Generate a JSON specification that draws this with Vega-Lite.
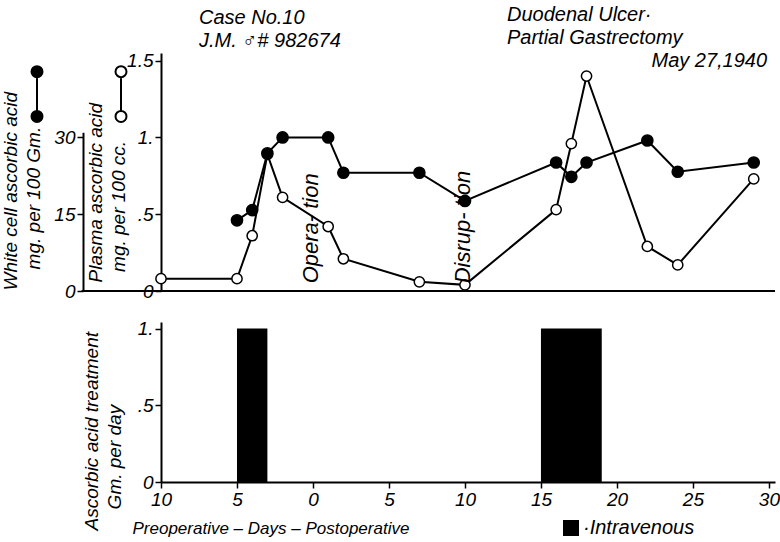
{
  "$schema": "https://vega.github.io/schema/vega-lite/v6.json",
  "padding": {"left": 0, "top": 4, "right": 0, "bottom": 0},
  "bounds": "flush",
  "spacing": 31,
  "background": "white",
  "config": {
    "font": "Liberation Sans",
    "view": {"stroke": null},
    "axis": {
      "domainColor": "black", "domainWidth": 2, "tickColor": "black", "tickWidth": 1.5, "tickSize": 6,
      "labelColor": "black", "labelFont": "Liberation Sans", "labelFontSize": 19, "labelFontStyle": "italic",
      "titleFont": "Liberation Sans", "titleFontSize": 19, "titleFontStyle": "italic", "titleFontWeight": "normal",
      "titleColor": "black", "titleLineHeight": 23, "grid": false, "labelPadding": 2, "labelFlush": false
    },
    "title": {"font": "Liberation Sans", "fontSize": 20, "fontStyle": "italic", "fontWeight": "normal", "color": "black", "lineHeight": 23},
    "legend": {"labelFont": "Liberation Sans", "labelColor": "black"}
  },
  "title": {"text": ["Case No.10", "J.M. ♂# 982674"], "anchor": "start", "dx": 198, "dy": 46, "offset": 0},
  "resolve": {"scale": {"fill": "independent"}, "legend": {"fill": "independent"}},
  "datasets": {
    "levels": [
      {"day": -10, "series": "Plasma", "value": 0.08},
      {"day": -5, "series": "Plasma", "value": 0.08},
      {"day": -4, "series": "Plasma", "value": 0.36},
      {"day": -3, "series": "Plasma", "value": 0.89},
      {"day": -2, "series": "Plasma", "value": 0.61},
      {"day": 1, "series": "Plasma", "value": 0.42},
      {"day": 2, "series": "Plasma", "value": 0.21},
      {"day": 7, "series": "Plasma", "value": 0.06},
      {"day": 10, "series": "Plasma", "value": 0.04},
      {"day": 16, "series": "Plasma", "value": 0.53},
      {"day": 17, "series": "Plasma", "value": 0.96},
      {"day": 18, "series": "Plasma", "value": 1.40},
      {"day": 22, "series": "Plasma", "value": 0.29},
      {"day": 24, "series": "Plasma", "value": 0.17},
      {"day": 29, "series": "Plasma", "value": 0.73},
      {"day": -5, "series": "White cell", "value": 13.8},
      {"day": -4, "series": "White cell", "value": 15.8},
      {"day": -3, "series": "White cell", "value": 26.9},
      {"day": -2, "series": "White cell", "value": 30},
      {"day": 1, "series": "White cell", "value": 30},
      {"day": 2, "series": "White cell", "value": 23.1},
      {"day": 7, "series": "White cell", "value": 23.1},
      {"day": 10, "series": "White cell", "value": 17.6},
      {"day": 16, "series": "White cell", "value": 25.1},
      {"day": 17, "series": "White cell", "value": 22.3},
      {"day": 18, "series": "White cell", "value": 25.1},
      {"day": 22, "series": "White cell", "value": 29.4},
      {"day": 24, "series": "White cell", "value": 23.3},
      {"day": 29, "series": "White cell", "value": 25.1}
    ],
    "events": [
      {"day": 0, "event": "Opera- tion"},
      {"day": 10, "event": "Disrup- tion"}
    ],
    "treatment": [
      {"start": -5, "end": -3, "dose": 1, "route": "Intravenous"},
      {"start": 15, "end": 19, "dose": 1, "route": "Intravenous"}
    ]
  },
  "vconcat": [
    {
      "width": 614,
      "height": 238,
      "title": {
        "text": ["Duodenal Ulcer·", "Partial Gastrectomy", "\u200b\u00a0\u00a0\u00a0\u00a0\u00a0\u00a0\u00a0\u00a0\u00a0\u00a0\u00a0\u00a0\u00a0\u00a0\u00a0\u00a0\u00a0\u00a0\u00a0\u00a0\u00a0\u00a0\u00a0\u00a0\u00a0\u00a0May 27,1940"],
        "anchor": "start", "frame": "group", "dx": 346, "dy": 19, "offset": 0
      },
      "layer": [
        {
          "data": {"name": "levels"},
          "transform": [{"filter": "datum.series == 'Plasma'"}],
          "layer": [
            {
              "mark": {"type": "rule", "color": "black", "strokeWidth": 2},
              "encoding": {
                "x": {"datum": -15.2, "type": "quantitative", "scale": {"domain": [-10, 30.4], "nice": false, "zero": false}, "axis": null},
                "x2": {"datum": 30.4},
                "y": {"datum": 0, "type": "quantitative"}
              }
            },
            {
              "mark": {"type": "line", "color": "black", "strokeWidth": 2},
              "encoding": {
                "x": {"field": "day", "type": "quantitative", "scale": {"domain": [-10, 30.4], "nice": false, "zero": false}, "axis": null},
                "y": {
                  "field": "value", "type": "quantitative",
                  "scale": {"domain": [0, 1.55], "nice": false, "zero": false},
                  "axis": {
                    "orient": "left", "values": [0, 0.5, 1, 1.5],
                    "labelExpr": "datum.value == 0 ? '0' : datum.value == 0.5 ? '.5' : datum.value == 1 ? '1.' : '1.5'",
                    "title": ["Plasma ascorbic acid", "\u200b\u00a0\u00a0mg. per 100 cc."],
                    "titleAngle": 270, "titleAlign": "left", "titleBaseline": "bottom", "titleY": 229, "titleX": -56
                  }
                }
              }
            },
            {
              "mark": {"type": "point", "filled": true, "stroke": "black", "strokeWidth": 1.5, "size": 105, "opacity": 1},
              "encoding": {
                "x": {"field": "day", "type": "quantitative"},
                "y": {"field": "value", "type": "quantitative"},
                "fill": {
                  "field": "series", "type": "nominal",
                  "scale": {"domain": ["White cell", "Plasma"], "range": ["black", "white"]},
                  "legend": {
                    "orient": "none", "legendX": -153, "legendY": 12, "direction": "horizontal", "title": null,
                    "labelExpr": "''", "labelOffset": 0, "columnPadding": 26,
                    "symbolType": "M-0.196,-0.8A0.196,0.196,0,1,0,0.196,-0.8A0.196,0.196,0,1,0,-0.196,-0.8Z M0,-0.604L0,0.604 M-0.196,0.8A0.196,0.196,0,1,0,0.196,0.8A0.196,0.196,0,1,0,-0.196,0.8Z",
                    "symbolSize": 3136, "symbolStrokeWidth": 2, "symbolStrokeColor": "black", "symbolOpacity": 1
                  }
                }
              }
            },
            {
              "data": {"name": "events"},
              "transform": [],
              "mark": {"type": "text", "angle": 270, "align": "left", "baseline": "middle", "fontSize": 22, "fontStyle": "italic", "color": "black", "dy": -2},
              "encoding": {
                "x": {"field": "day", "type": "quantitative"},
                "y": {"datum": 0.05, "type": "quantitative"},
                "text": {"field": "event"}
              }
            }
          ]
        },
        {
          "data": {"name": "levels"},
          "transform": [{"filter": "datum.series == 'White cell'"}],
          "layer": [
            {
              "mark": {"type": "line", "color": "black", "strokeWidth": 2},
              "encoding": {
                "x": {"field": "day", "type": "quantitative"},
                "y": {
                  "field": "value", "type": "quantitative",
                  "scale": {"domain": [0, 31], "range": [238, 79.3], "nice": false, "zero": false},
                  "axis": {
                    "orient": "left", "offset": 78, "values": [0, 15, 30],
                    "title": ["White cell ascorbic acid", "\u200b\u00a0\u00a0\u00a0\u00a0mg. per 100 Gm."],
                    "titleAngle": 270, "titleAlign": "left", "titleBaseline": "bottom", "titleY": 237, "titleX": -63
                  }
                }
              }
            },
            {
              "mark": {"type": "point", "filled": true, "stroke": "black", "strokeWidth": 1.5, "size": 125, "opacity": 1},
              "encoding": {
                "x": {"field": "day", "type": "quantitative"},
                "y": {"field": "value", "type": "quantitative"},
                "fill": {
                  "field": "series", "type": "nominal",
                  "scale": {"domain": ["White cell", "Plasma"], "range": ["black", "white"]}
                }
              }
            }
          ]
        }
      ],
      "resolve": {"scale": {"y": "independent"}}
    },
    {
      "width": 614,
      "height": 160,
      "data": {"name": "treatment"},
      "mark": {"type": "rect", "color": "black"},
      "encoding": {
        "x": {
          "field": "start", "type": "quantitative",
          "scale": {"domain": [-10, 30.4], "nice": false, "zero": false},
          "axis": {
            "values": [-10, -5, 0, 5, 10, 15, 20, 25, 30],
            "labelExpr": "'' + abs(datum.value)",
            "title": "Preoperative – Days – Postoperative",
            "titleAlign": "left", "titleAnchor": "start", "titleBaseline": "alphabetic", "titleX": -29, "titleY": 51, "titleFontSize": 17
          }
        },
        "x2": {"field": "end"},
        "y": {
          "field": "dose", "type": "quantitative",
          "scale": {"domain": [0, 1.043], "nice": false, "zero": false},
          "axis": {
            "values": [0, 0.5, 1],
            "labelExpr": "datum.value == 0 ? '0' : datum.value == 0.5 ? '.5' : '1.'",
            "title": ["Ascorbic acid treatment", "\u200b\u00a0\u00a0\u00a0\u00a0Gm. per day"],
            "titleAngle": 270, "titleAlign": "left", "titleBaseline": "bottom", "titleY": 208, "titleX": -60
          }
        },
        "y2": {"datum": 0},
        "fill": {
          "field": "route", "type": "nominal",
          "scale": {"domain": ["Intravenous"], "range": ["black"]},
          "legend": {
            "orient": "none", "legendX": 400, "legendY": 196, "title": null,
            "symbolType": "square", "symbolSize": 256, "symbolStrokeWidth": 0, "symbolFillColor": "black",
            "labelExpr": "'·' + datum.label", "labelFontSize": 20, "labelFontStyle": "italic", "labelOffset": 2
          }
        }
      }
    }
  ]
}
